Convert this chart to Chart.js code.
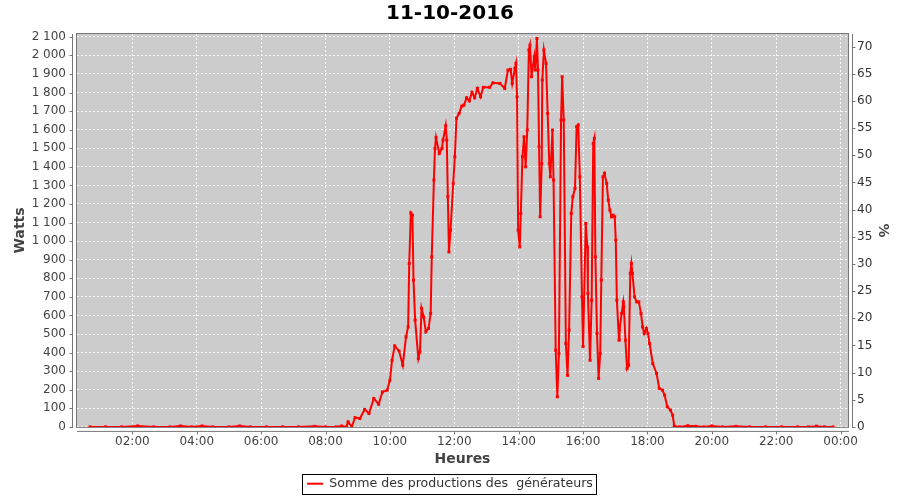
<!DOCTYPE html>
<html>
<head>
<meta charset="utf-8">
<title>11-10-2016</title>
<script src="https://cdn.jsdelivr.net/npm/chart.js@4.4.0/dist/chart.umd.min.js"></script>
<style>
  html, body { margin: 0; padding: 0; background: #fff; }
</style>
</head>
<body>
<canvas id="grafico" width="900" height="500"></canvas>
<script>
// Production du 11-10-2016
const horas = [
  '00:41','01:10','01:40','02:10','02:40','03:10','03:30','03:50','04:10','04:30',
  '05:00','05:20','05:40','06:10','06:40','07:10','07:40','08:00','08:20','08:30','08:39',
  '08:42','08:49','08:55','09:04','09:13','09:21','09:30','09:39','09:46','09:55',
  '10:00','10:04','10:09','10:17','10:24','10:30','10:34','10:36','10:39','10:42',
  '10:44','10:47','10:53','10:56','10:59','11:03','11:07','11:12','11:16','11:18',
  '11:22','11:24','11:26','11:32','11:37','11:39','11:44','11:46','11:48','11:50',
  '11:53','11:58','12:01','12:04','12:09','12:14','12:18','12:23','12:28','12:33',
  '12:38','12:43','12:49','12:54','13:06','13:12','13:25','13:34','13:40','13:45',
  '13:48','13:53','13:55','13:57','13:59','14:02','14:04','14:07','14:10','14:13',
  '14:16','14:19','14:21','14:24','14:29','14:31','14:34','14:36','14:38','14:40',
  '14:43','14:44','14:47','14:51','14:54','14:57','14:59','15:03','15:05','15:09',
  '15:12','15:15','15:19','15:21','15:24','15:28','15:31','15:34','15:38','15:41',
  '15:45','15:48','15:51','15:54','15:58','16:00','16:05','16:08','16:09','16:13',
  '16:16','16:19','16:21','16:23','16:26','16:29','16:32','16:34','16:37','16:40',
  '16:44','16:47','16:50','16:53','16:56','16:59','17:01','17:03','17:07','17:08',
  '17:12','17:15','17:16','17:19','17:22','17:25','17:28','17:30','17:32','17:36',
  '17:40','17:44','17:48','17:51','17:54','17:58','18:01','18:04','18:10','18:17',
  '18:22','18:28','18:32','18:37','18:43','18:47','18:50',
  '19:00','19:15','19:30','19:45','20:00','20:20','20:45','21:10','21:40','22:10',
  '22:40','23:00','23:15','23:30','23:46'
];

const watts = [
  0, 0, 0, 5, 0, 0, 5, 0, 5, 0,
  0, 5, 0, 0, 0, 0, 3, 0, 0, 5, 0,
  27, 0, 50, 45, 94, 72, 153, 122, 188, 198,
  251, 359, 436, 409, 332, 485, 538, 880, 1152, 1140,
  790, 575, 368, 404, 638, 592, 512, 530, 611, 915,
  1329, 1499, 1558, 1472, 1499, 1544, 1621, 1544, 1239, 942,
  1059, 1311, 1454, 1661, 1688, 1727, 1732, 1772, 1755, 1801,
  1772, 1822, 1777, 1828, 1828, 1852, 1849, 1822, 1921, 1925,
  1849, 1930, 1957, 1777, 1059, 969, 1149, 1454, 1562, 1400,
  1598, 2029, 2055, 1885, 1992, 1921, 2091, 1921, 1508, 1131,
  1418, 1867, 2029, 1957, 1688, 1418, 1346, 1598, 1329, 413,
  162, 395, 1652, 1885, 1652, 449, 278, 521, 1149, 1239,
  1284, 1616, 1625, 1346, 700, 433, 1095, 969, 718, 359,
  682, 1526, 1553, 915, 503, 261, 395, 790, 1346, 1365,
  1311, 1221, 1167, 1131, 1140, 1131, 1005, 682, 467, 521,
  611, 673, 646, 467, 314, 332, 826, 880, 826, 700,
  673, 673, 611, 538, 503, 530, 503, 449, 341, 288,
  207, 198, 171, 108, 90, 63, 4,
  0, 6, 3, 0, 5, 0, 3, 0, 0, 0,
  0, 0, 4, 0, 0
];

// bornes des axes (heures decimales, watts, %)
const X_MIN = 0.28, X_MAX = 24.23, X_PAS = 2;
const W_MAX = 2115, W_PAS = 100;
const P_MAX = 72.34, P_PAS = 5;

const TITRE = '11-10-2016';
const SERIE = 'Somme des productions des  générateurs';

// "HH:MM" -> heures
function enHeures(h) {
  const p = h.split(':');
  return parseInt(p[0]) + parseInt(p[1]) / 60;
}

const points = horas.map(function (h, i) {
  return { x: enHeures(h), y: watts[i] };
});

const police = "'DejaVu Sans', sans-serif";
const gris = '#777777';

// fond gris, cadre et axes decales comme sur l'original
const fondPlugin = {
  id: 'fond',
  beforeDraw(chart) {
    const a = chart.chartArea, ctx = chart.ctx;
    ctx.save();
    ctx.fillStyle = '#cccccc';
    ctx.fillRect(a.left, a.top, a.right - a.left, a.bottom - a.top);
    ctx.restore();
  },
  beforeDatasetsDraw(chart) {
    const a = chart.chartArea, ctx = chart.ctx;
    ctx.save();
    ctx.strokeStyle = gris;
    ctx.lineWidth = 1;
    ctx.strokeRect(a.left - 0.5, a.top - 0.5, a.right - a.left + 1, a.bottom - a.top + 1);
    ctx.restore();
  },
  afterDraw(chart) {
    const a = chart.chartArea, ctx = chart.ctx;
    const sx = chart.scales.x, sy = chart.scales.y, sp = chart.scales.pct;
    ctx.save();
    ctx.strokeStyle = gris;
    ctx.lineWidth = 1;
    ctx.beginPath();
    // axe gauche
    const xl = a.left - 4.5;
    ctx.moveTo(xl, a.top); ctx.lineTo(xl, a.bottom + 1);
    sy.ticks.forEach(function (t) {
      const y = Math.round(sy.getPixelForValue(t.value)) + 0.5;
      ctx.moveTo(xl - 3, y); ctx.lineTo(xl, y);
    });
    // axe droit
    const xr = a.right + 4.5;
    ctx.moveTo(xr, a.top); ctx.lineTo(xr, a.bottom + 1);
    sp.ticks.forEach(function (t) {
      const y = Math.round(sp.getPixelForValue(t.value)) + 0.5;
      ctx.moveTo(xr, y); ctx.lineTo(xr + 3, y);
    });
    // axe du bas
    const yb = a.bottom + 4.5;
    ctx.moveTo(a.left, yb); ctx.lineTo(a.right + 1, yb);
    sx.ticks.forEach(function (t) {
      const x = Math.round(sx.getPixelForValue(t.value)) + 0.5;
      ctx.moveTo(x, yb); ctx.lineTo(x, yb + 3);
    });
    ctx.stroke();

    // cadre de la legende
    const lg = chart.legend;
    if (lg && lg.legendHitBoxes && lg.legendHitBoxes.length) {
      const hb = lg.legendHitBoxes[0];
      const cy = Math.round(hb.top + hb.height / 2);
      ctx.strokeStyle = '#000000';
      ctx.strokeRect(Math.round(hb.left) - 4.5, cy - 9.5,
        Math.round(hb.width) + 8, 20);
    }
    ctx.restore();
  }
};

function milliers(v) {
  return String(v).replace(/\B(?=(\d{3})+(?!\d))/g, ' ');
}

function etiquetteHeure(v) {
  const h = Math.round(v) % 24;
  return (h < 10 ? '0' : '') + h + ':00';
}

const grille = {
  color: 'rgba(255,255,255,0.85)',
  lineWidth: 1,
  drawTicks: false
};

new Chart(document.getElementById('grafico'), {
  type: 'line',
  data: {
    datasets: [{
      label: SERIE,
      data: points,
      borderColor: '#ff0000',
      backgroundColor: '#ff0000',
      borderWidth: 2,
      pointRadius: 0.7,
      pointStyle: 'rect',
      pointHoverRadius: 0,
      tension: 0,
      yAxisID: 'y'
    }]
  },
  plugins: [fondPlugin],
  options: {
    responsive: false,
    animation: false,
    layout: { padding: 0 },
    plugins: {
      title: {
        display: true,
        text: TITRE,
        color: '#000000',
        font: { family: police, size: 20, weight: 'bold' },
        padding: { top: 2, bottom: 8 }
      },
      legend: {
        position: 'bottom',
        labels: {
          color: '#333333',
          font: { family: police, size: 12.6 },
          usePointStyle: true,
          pointStyle: 'line',
          pointStyleWidth: 16,
          padding: 0.5
        }
      },
      tooltip: { enabled: false }
    },
    scales: {
      x: {
        type: 'linear',
        min: X_MIN,
        max: X_MAX,
        grid: grille,
        border: { display: false, dash: [2, 2] },
        ticks: {
          stepSize: X_PAS,
          includeBounds: false,
          autoSkip: false,
          maxRotation: 0,
          padding: 8,
          color: '#444444',
          font: { family: police, size: 12 },
          callback: etiquetteHeure
        },
        title: {
          display: true,
          text: 'Heures',
          color: '#444444',
          font: { family: police, size: 14, weight: 'bold' },
          padding: { top: 0, bottom: 9 }
        },
        afterFit(s) { s.height = 50; }
      },
      y: {
        type: 'linear',
        position: 'left',
        min: 0,
        max: W_MAX,
        grid: grille,
        border: { display: false, dash: [2, 2] },
        ticks: {
          stepSize: W_PAS,
          includeBounds: false,
          padding: 11,
          color: '#444444',
          font: { family: police, size: 12 },
          callback: milliers
        },
        title: {
          display: true,
          text: 'Watts',
          color: '#444444',
          font: { family: police, size: 14, weight: 'bold' },
          padding: { top: 12, bottom: 0 }
        },
        afterFit(s) { s.width = 77; }
      },
      pct: {
        type: 'linear',
        position: 'right',
        min: 0,
        max: P_MAX,
        grid: { display: false, drawTicks: false },
        border: { display: false },
        ticks: {
          stepSize: P_PAS,
          includeBounds: false,
          padding: 9,
          color: '#333333',
          font: { family: police, size: 12 }
        },
        title: {
          display: true,
          text: '%',
          color: '#444444',
          font: { family: police, size: 14, weight: 'bold' },
          padding: { top: 9, bottom: 0 }
        },
        afterFit(s) { s.width = 52; }
      }
    }
  }
});
</script>
</body>
</html>
